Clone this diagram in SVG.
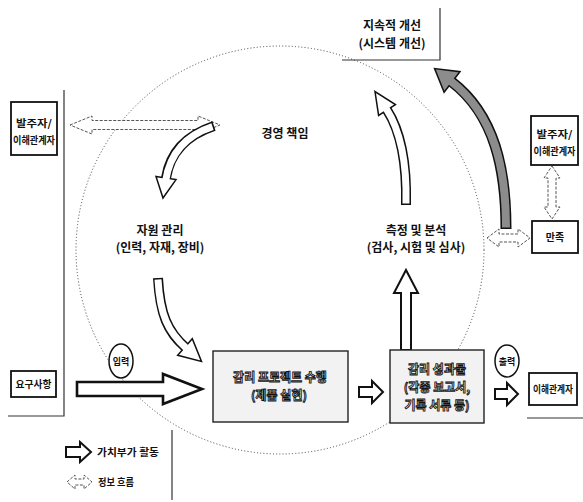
<svg xmlns="http://www.w3.org/2000/svg" width="583" height="502" viewBox="0 0 583 502">
<style>
text{font-family:"Noto Sans CJK KR","Noto Sans",sans-serif;fill:#111;font-weight:bold;text-anchor:middle}
.lbl{font-size:12px}
.sm{font-size:10px}
.out{font-size:12px;fill:#fff;stroke:#111;stroke-width:0.9px}
.box{fill:#fff;stroke:#111;stroke-width:1.8}
.pbox{fill:#f2f2f2;stroke:#222;stroke-width:1.4}
.frame{fill:none;stroke:#333;stroke-width:1.2}
.circ{fill:none;stroke:#444;stroke-width:1;stroke-dasharray:1 2.2}
.hol{fill:#fff;stroke:#111;stroke-width:2;stroke-linejoin:miter}
.info{fill:#fff;stroke:#555;stroke-width:1;stroke-dasharray:3 1.5}
.cb{fill:none;stroke:#111;stroke-width:10}
.cw{fill:none;stroke:#fff;stroke-width:7}
.gb{fill:none;stroke:#111;stroke-width:11}
.gw{fill:none;stroke:#8c8c8c;stroke-width:8}
.head{fill:#fff;stroke:#111;stroke-width:1.5;stroke-linejoin:miter}
.ghead{fill:#8c8c8c;stroke:#111;stroke-width:1.5}
.ell{fill:#fff;stroke:#111;stroke-width:1.5}
.flat{opacity:0.995}
</style>

<ellipse class="circ" cx="280" cy="250" rx="204" ry="204"/>

<g id="frames">
<polyline class="frame" points="342,60 440,60 440,8"/>
<polyline class="frame" points="64,90 64,416 8,416"/>
<line class="frame" x1="527" y1="418" x2="583" y2="418"/>
<line class="frame" x1="172" y1="430" x2="172" y2="500"/>
</g>

<g id="connectors">
<polygon class="info" points="70,125 92,116 92,120.5 198,120.5 198,116 220,125 198,134 198,129.5 92,129.5 92,134"/>
<polygon class="info" points="487,238 499,229 499,234 518,234 518,229 530,238 518,247 518,242 499,242 499,247"/>
<polygon class="info" points="552,166 560,178 556,178 556,207 560,207 552,219 544,207 548,207 548,178 544,178"/>

<path class="cb" d="M214 126 Q172 140 166 178"/>
<polygon class="head" points="156,176.4 176,179.6 163,198"/>
<path class="cw" d="M212.5 126.6 Q172 140 165.7 180.5"/>

<path class="cb" d="M158 278 C160 315 168 332 185 347"/>
<polygon class="head" points="177.7,355.3 192.3,338.7 201.5,361.5"/>
<path class="cw" d="M158 279.5 C160 315 168 332 186.5 348.3"/>

<path class="cb" d="M406 205 C407 160 400 130 387 110"/>
<polygon class="head" points="395.4,104.6 378.6,115.4 375,91.5"/>
<path class="cw" d="M406 203.5 C407 160 400 130 386.2 108.7"/>

<path class="gb" d="M506 229 C506 170 495 115 452 82"/>
<polygon class="ghead" points="459.9,71.7 444.1,92.3 434.6,68.6"/>
<path class="gw" d="M506 227.5 C506 170 495 115 450.8 81.1"/>

<polygon class="hol" points="401,350 401,293 394,293 406,270 418,293 411,293 411,350"/>

<polygon class="hol" style="stroke-width:2.6" points="77,382 163,382 163,374 202,389 163,404 163,396 77,396"/>
<polygon class="hol" points="359,387 372,387 372,381 383,392 372,403 372,397 359,397"/>
<polygon class="hol" points="495,389 507,389 507,383 518,394 507,405 507,399 495,399"/>
</g>

<g id="node-improve">
<text class="lbl" x="392" y="30">지속적 개선</text>
<text class="lbl" x="392" y="48">(시스템 개선)</text>
</g>

<g id="node-client-left">
<rect class="box" x="11" y="102" width="46" height="53"/>
<text class="sm" x="34" y="127" textLength="36" lengthAdjust="spacingAndGlyphs">발주자/</text>
<text class="sm" x="34" y="144" textLength="42" lengthAdjust="spacingAndGlyphs">이해관계자</text>
</g>

<g id="node-client-right">
<rect class="box" x="531" y="116" width="47" height="49"/>
<text class="sm" x="554.5" y="138" textLength="36" lengthAdjust="spacingAndGlyphs">발주자/</text>
<text class="sm" x="554.5" y="155" textLength="42" lengthAdjust="spacingAndGlyphs">이해관계자</text>
</g>

<g id="node-satisfaction">
<rect class="box" x="532" y="221" width="46" height="32"/>
<text class="sm" x="555" y="241">만족</text>
</g>

<g id="node-management">
<text class="lbl" x="285" y="138">경영 책임</text>
</g>

<g id="node-resource">
<text class="lbl" x="160" y="235">자원 관리</text>
<text class="lbl" x="160" y="252">(인력, 자재, 장비)</text>
</g>

<g id="node-measure">
<text class="lbl" x="416" y="235">측정 및 분석</text>
<text class="lbl" x="416" y="252">(검사, 시험 및 심사)</text>
</g>

<g id="node-requirements">
<rect class="box" x="11" y="371" width="45" height="26"/>
<text class="sm" x="33.5" y="388" textLength="36" lengthAdjust="spacingAndGlyphs">요구사항</text>
</g>

<g id="node-input">
<ellipse class="ell" cx="121" cy="361" rx="12" ry="17"/>
<text x="121" y="364.5" style="font-size:9px">입력</text>
</g>

<g id="node-project">
<rect class="pbox" x="213" y="351" width="135" height="71"/>
<g class="flat">
<text class="out" x="280" y="382">감리 프로젝트 수행</text>
<text class="out" x="279" y="400">(제품 실현)</text>
</g>
</g>

<g id="node-deliverables">
<rect class="pbox" x="390" y="350" width="94" height="73"/>
<g class="flat">
<text class="out" x="437" y="374">감리 성과물</text>
<text class="out" x="437" y="392">(각종 보고서,</text>
<text class="out" x="437" y="410">기록 서류 등)</text>
</g>
</g>

<g id="node-output">
<ellipse class="ell" cx="507" cy="361" rx="12" ry="16"/>
<text x="507" y="364.5" style="font-size:9px">출력</text>
</g>

<g id="node-stakeholders">
<rect class="box" x="529" y="373" width="48" height="32"/>
<text class="sm" x="553" y="393" textLength="40" lengthAdjust="spacingAndGlyphs">이해관계자</text>
</g>

<g id="legend">
<polygon class="hol" points="66,447 80,447 80,442 91,452 80,462 80,457 66,457"/>
<text class="sm" x="128" y="456" textLength="62" lengthAdjust="spacingAndGlyphs">가치부가 활동</text>
<polygon class="info" points="67,482 75,475 75,479 84,479 84,475 92,482 84,489 84,485 75,485 75,489"/>
<text class="sm" x="116" y="486" textLength="36" lengthAdjust="spacingAndGlyphs">정보 흐름</text>
</g>
</svg>
